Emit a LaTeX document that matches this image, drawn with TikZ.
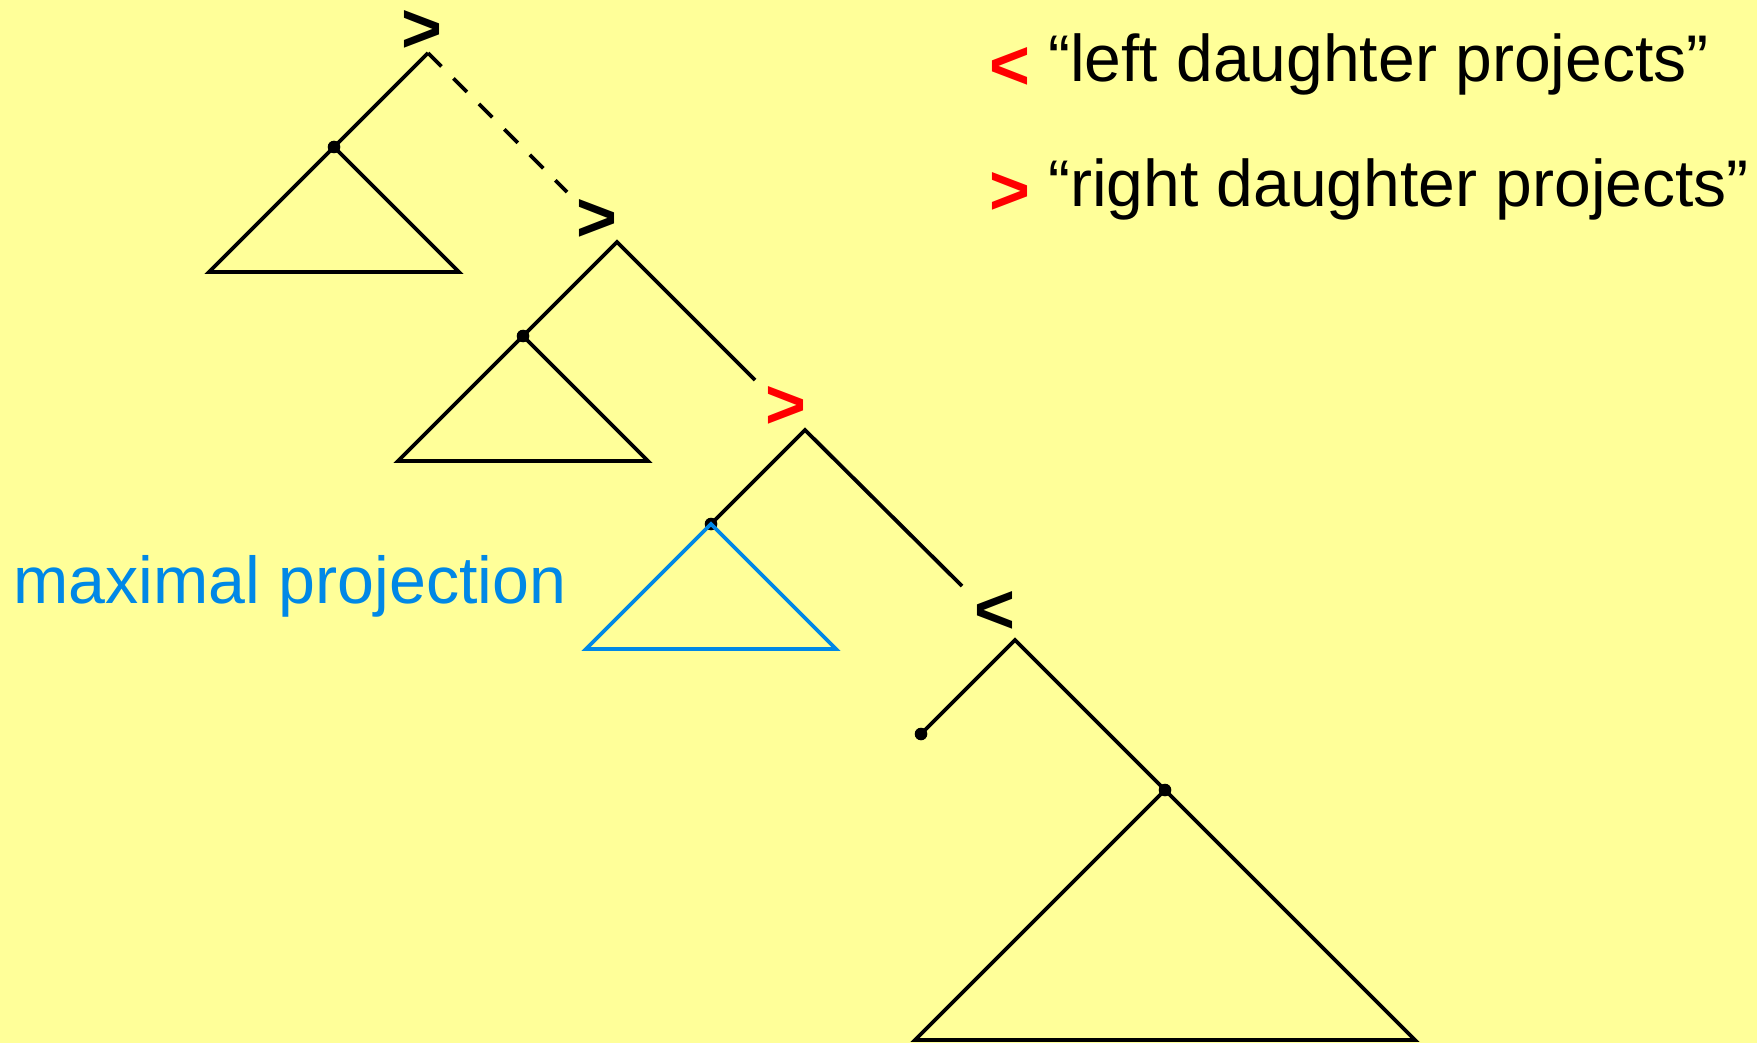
\documentclass[tikz,border=0pt]{standalone}
\usepackage{fontspec}
\setmainfont{Liberation Sans}
\definecolor{bg}{RGB}{255,255,153}
\definecolor{projblue}{RGB}{0,136,230}
\definecolor{symred}{RGB}{255,0,0}
\begin{document}
\begin{tikzpicture}[x=1pt,y=-1pt,
  branch/.style={black, line width=3.8pt, line join=miter},
  blueline/.style={projblue, line width=3.8pt, line join=miter},
  dashbranch/.style={black, line width=3.8pt, dash pattern=on 19pt off 17pt},
  sym/.style={inner sep=0pt, font={\fontsize{70}{70}\selectfont\bfseries}},
  legtext/.style={inner sep=0pt, anchor=base west, font={\fontsize{66}{78}\selectfont}},
  dotfill/.style={fill=black}]
\fill[bg] (0,0) rectangle (1757,1043);
\useasboundingbox (0,0) rectangle (1757,1043);

% apexes and child points
\coordinate (a1) at (428,53);
\coordinate (d1) at (334,147);
\coordinate (t1l) at (209,272);
\coordinate (t1r) at (459,272);
\coordinate (e1) at (567,192);

\coordinate (a2) at (617,242);
\coordinate (d2) at (523,336);
\coordinate (t2l) at (398,461);
\coordinate (t2r) at (648,461);
\coordinate (e2) at (755,380);

\coordinate (a3) at (805,430);
\coordinate (d3) at (711,524);
\coordinate (t3l) at (586,649);
\coordinate (t3r) at (836,649);
\coordinate (e3) at (962,586);

\coordinate (a4) at (1015,640);
\coordinate (d4) at (921,734);
\coordinate (d5) at (1165,790);
\coordinate (t4l) at (915,1040);
\coordinate (t4r) at (1415,1040);

% labels
\node[sym] (l1) at (422,31) {>};
\node[sym] (l2) at (597,220) {>};
\node[sym, symred] (l3) at (786,407) {>};
\node[sym] (l4) at (995,612) {<};

% level 1
\draw[branch] (a1) -- (d1) -- (t1l) -- (t1r) -- (d1);
\draw[dashbranch] (a1) -- (e1);
\fill[dotfill] (d1) circle (6.3pt);

% level 2
\draw[branch] (e2) -- (a2) -- (d2) -- (t2l) -- (t2r) -- (d2);
\fill[dotfill] (d2) circle (6.3pt);

% level 3
\draw[branch] (e3) -- (a3) -- (d3);
\fill[dotfill] (d3) circle (6.3pt);
\draw[blueline] (d3) -- (t3l) -- (t3r) -- cycle;

% level 4
\draw[branch] (d4) -- (a4) -- (d5) -- (t4r) -- (t4l) -- (d5);
\fill[dotfill] (d4) circle (6.3pt);
\fill[dotfill] (d5) circle (6.3pt);

% maximal projection
\node[inner sep=0pt, anchor=base west, projblue, font={\fontsize{66.3}{80}\selectfont}] (mp) at (13.5,603) {maximal projection};

% legend
\node[sym, symred] (ls1) at (1009.5,68) {<};
\node[legtext] (lt1) at (1048,82) {“left daughter projects”};
\node[sym, symred] (ls2) at (1009.5,193) {>};
\node[legtext] (lt2) at (1048,207) {“right daughter projects”};
\end{tikzpicture}
\end{document}
